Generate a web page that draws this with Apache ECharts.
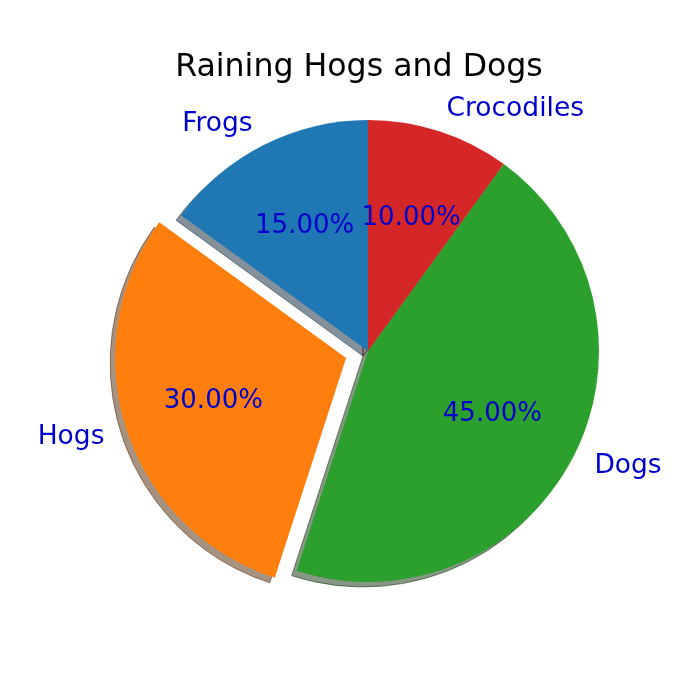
<!DOCTYPE html>
<html>
<head>
<meta charset="utf-8">
<script src="https://cdn.jsdelivr.net/npm/echarts@6/dist/echarts.min.js"></script>
<style>html,body{margin:0;padding:0;background:#fff}#c{width:700px;height:700px}</style>
</head>
<body>
<div id="c"></div>
<script>
var categories = ['Frogs', 'Hogs', 'Dogs', 'Crocodiles'];
var values = [15, 30, 45, 10];
var colors = ['#1f77b4', '#ff7f0e', '#2ca02c', '#d62728'];
var exploded = [false, true, false, false];
var titleText = 'Raining Hogs and Dogs';

var CX = 368, CY = 351, R = 231, EXPL = 23, SH = 5;
var FONT = 'DejaVu Sans';
var LABEL_COLOR = '#0000cd';

function shadowColor(hex, a) {
  var r = parseInt(hex.substr(1, 2), 16), g = parseInt(hex.substr(3, 2), 16), b = parseInt(hex.substr(5, 2), 16);
  return 'rgba(' + Math.round(r * 0.3) + ',' + Math.round(g * 0.3) + ',' + Math.round(b * 0.3) + ',' + a + ')';
}

function build(kind) {
  return categories.map(function (n, i) {
    var d = { name: n, value: values[i], selected: exploded[i] };
    if (kind === 'shadow') {
      d.itemStyle = { color: shadowColor(colors[i], 0.5), borderColor: shadowColor(colors[i], 0.5), borderWidth: 1 };
    } else if (kind === 'main') {
      d.itemStyle = { color: colors[i], borderWidth: 0 };
    } else {
      d.itemStyle = { color: 'rgba(0,0,0,0)', borderWidth: 0 };
    }
    return d;
  });
}

var common = {
  type: 'pie',
  startAngle: 90,
  clockwise: false,
  selectedMode: 'multiple',
  selectedOffset: EXPL,
  avoidLabelOverlap: false,
  animation: false,
  silent: true,
  emphasis: { disabled: true, scale: false },
  select: { disabled: false },
  padAngle: 0,
  minAngle: 0
};

var option = {
  animation: false,
  title: {
    text: titleText,
    left: 354,
    top: 47,
    textAlign: 'center',
    textStyle: { fontFamily: FONT, fontSize: 31.6, fontWeight: 'normal', color: '#000' }
  },
  series: [
    Object.assign({}, common, {
      name: 'shadow',
      center: [CX - SH, CY + SH],
      radius: [0, R],
      label: { show: false },
      labelLine: { show: false },
      data: build('shadow')
    }),
    Object.assign({}, common, {
      name: 'main',
      center: [CX, CY],
      radius: [0, R],
      label: {
        show: true,
        position: 'outside',
        formatter: '{b}',
        fontFamily: FONT,
        fontSize: 26.5,
        color: LABEL_COLOR,
        distanceToLabelLine: 0
      },
      labelLine: { show: false, length: 0.1 * R, length2: 0 },
      data: build('main')
    }),
    Object.assign({}, common, {
      name: 'pct',
      center: [CX, CY],
      radius: [0.2 * R - 4, R],
      label: {
        show: true,
        position: 'inside',
        formatter: function (p) { return p.percent.toFixed(2) + '%'; },
        fontFamily: FONT,
        fontSize: 26,
        color: LABEL_COLOR
      },
      labelLine: { show: false },
      data: build('pct')
    })
  ]
};

var chart = echarts.init(document.getElementById('c'), null, { renderer: 'canvas' });
chart.setOption(option);
</script>
</body>
</html>
